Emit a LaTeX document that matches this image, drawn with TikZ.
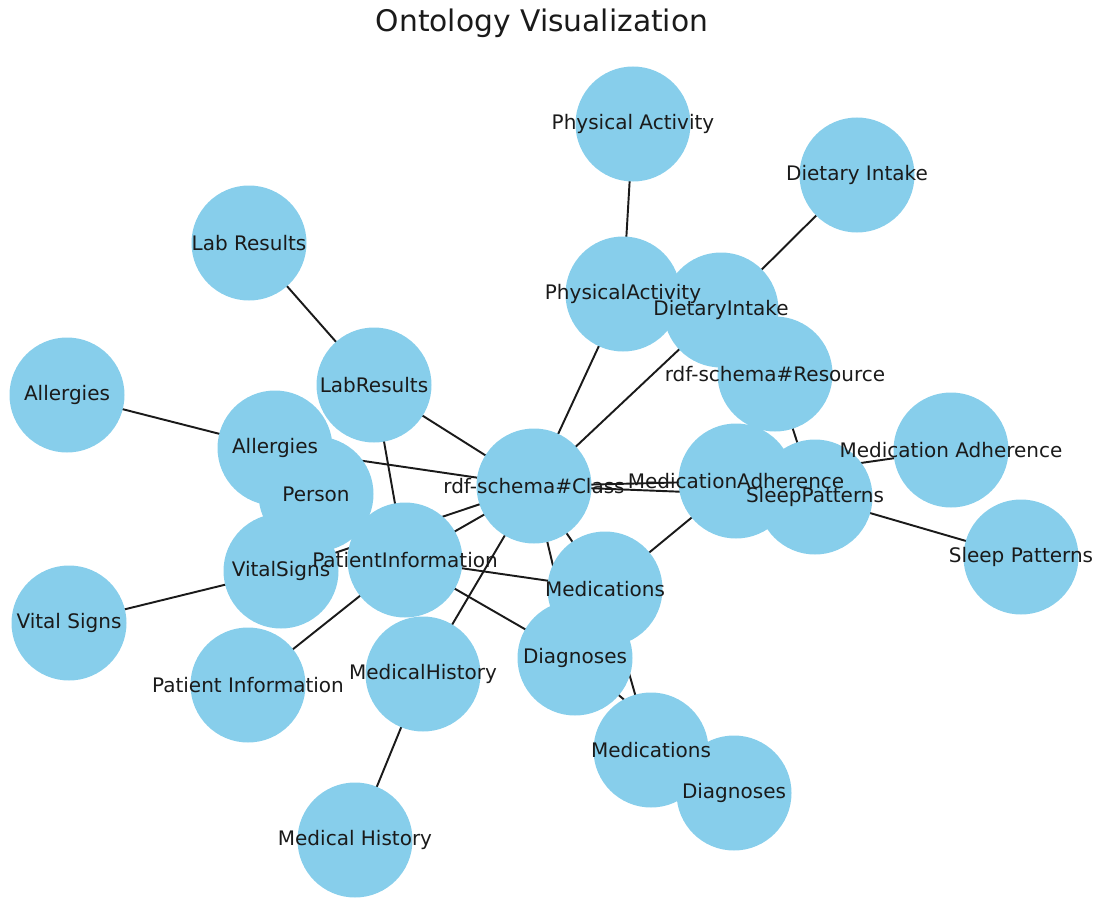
\documentclass[tikz,border=0pt]{standalone}
\usepackage{fontspec}
\setmainfont{DejaVu Sans}
\usepackage{tikz}
\usepackage{xcolor}
\definecolor{Onto_Sky}{HTML}{87CEEB}
\definecolor{Onto_Ink}{HTML}{1A1A1A}

\begin{document}
\begin{tikzpicture}[x=0.75pt, y=-0.75pt,
  concept/.style={circle, fill=Onto_Sky, minimum size=86.25pt, inner sep=0pt},
  conceptname/.style={text=Onto_Ink, inner sep=0pt, font=\fontsize{15}{18}\selectfont},
  relation/.style={draw=Onto_Ink, line width=1.45pt}]
\useasboundingbox (0,0) rectangle (1097,899);
\node[text=Onto_Ink, font=\fontsize{22.3}{26}\selectfont] (title) at (542,23) {Ontology Visualization};
% --- Concept positions ---
\coordinate (PhysAct) at (633,124);
\coordinate (DietInt) at (857,175);
\coordinate (LabRes) at (249,243);
\coordinate (physact) at (623,294);
\coordinate (dietint) at (721,310);
\coordinate (resource) at (775,374);
\coordinate (Allergies) at (67,395);
\coordinate (labres) at (374,385);
\coordinate (allergies) at (275,448);
\coordinate (MedAdh) at (951,450);
\coordinate (class) at (534,486);
\coordinate (medadh) at (736,481);
\coordinate (sleeppat) at (815,497);
\coordinate (person) at (316,494);
\coordinate (vitalsigns) at (281,571);
\coordinate (patinfo) at (405,560);
\coordinate (meds) at (605,589);
\coordinate (SleepPat) at (1021,557);
\coordinate (VitalSigns) at (69,623);
\coordinate (diag) at (575,658);
\coordinate (PatInfo) at (248,685);
\coordinate (medhist) at (423,674);
\coordinate (Meds) at (651,750);
\coordinate (Diag) at (734,793);
\coordinate (MedHist) at (355,840);
% --- Relations (under the circles) ---
\foreach \a/\b in {PhysAct/physact, DietInt/dietint, LabRes/labres, Allergies/allergies,
  MedAdh/medadh, SleepPat/sleeppat, VitalSigns/vitalsigns, PatInfo/patinfo,
  MedHist/medhist, Meds/meds, Diag/diag,
  class/physact, class/dietint, class/labres, class/allergies, class/medadh,
  class/sleeppat, class/vitalsigns, class/patinfo, class/medhist, class/meds,
  class/diag, resource/sleeppat, patinfo/labres, patinfo/meds, patinfo/diag,
  meds/medadh}
  \draw[relation] (\a) -- (\b);
% --- Circles ---
\foreach \c in {PhysAct, DietInt, LabRes, physact, dietint, resource, Allergies,
  labres, allergies, MedAdh, class, medadh, sleeppat, person, vitalsigns, patinfo,
  meds, SleepPat, VitalSigns, diag, PatInfo, medhist, Meds, Diag, MedHist}
  \node[concept] (c-\c) at (\c) {};
% --- Names on top ---
\node[conceptname] at (c-PhysAct) {Physical Activity};
\node[conceptname] at (c-DietInt) {Dietary Intake};
\node[conceptname] at (c-LabRes) {Lab Results};
\node[conceptname] at (c-physact) {PhysicalActivity};
\node[conceptname] at (c-dietint) {DietaryIntake};
\node[conceptname] at (c-resource) {rdf-schema\#Resource};
\node[conceptname] at (c-Allergies) {Allergies};
\node[conceptname] at (c-labres) {LabResults};
\node[conceptname] at (c-allergies) {Allergies};
\node[conceptname] at (c-MedAdh) {Medication Adherence};
\node[conceptname] at (c-class) {rdf-schema\#Class};
\node[conceptname] at (c-medadh) {MedicationAdherence};
\node[conceptname] at (c-sleeppat) {SleepPatterns};
\node[conceptname] at (c-person) {Person};
\node[conceptname] at (c-vitalsigns) {VitalSigns};
\node[conceptname] at (c-patinfo) {PatientInformation};
\node[conceptname] at (c-meds) {Medications};
\node[conceptname] at (c-SleepPat) {Sleep Patterns};
\node[conceptname] at (c-VitalSigns) {Vital Signs};
\node[conceptname] at (c-diag) {Diagnoses};
\node[conceptname] at (c-PatInfo) {Patient Information};
\node[conceptname] at (c-medhist) {MedicalHistory};
\node[conceptname] at (c-Meds) {Medications};
\node[conceptname] at (c-Diag) {Diagnoses};
\node[conceptname] at (c-MedHist) {Medical History};
\end{tikzpicture}
\end{document}
